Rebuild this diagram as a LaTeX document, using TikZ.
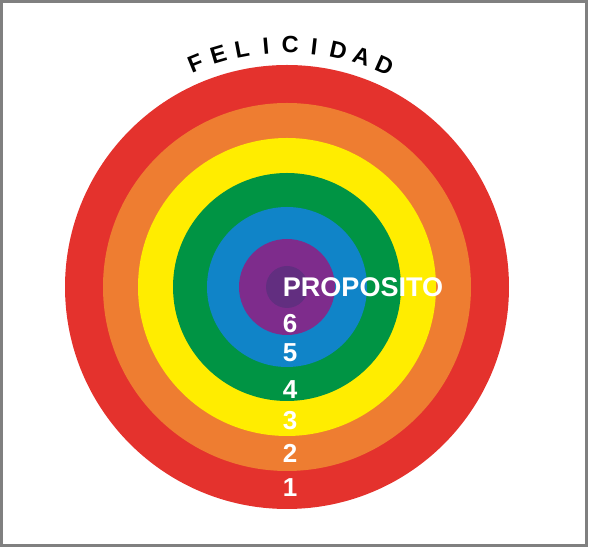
\documentclass[tikz,border=0pt]{standalone}
\usepackage{fontspec}
\setmainfont{Liberation Sans}
\usetikzlibrary{calc,positioning}

\definecolor{ringred}{RGB}{228,50,45}
\definecolor{ringorange}{RGB}{238,125,49}
\definecolor{ringyellow}{RGB}{255,237,0}
\definecolor{ringgreen}{RGB}{0,148,68}
\definecolor{ringblue}{RGB}{16,132,200}
\definecolor{ringpurple}{RGB}{126,44,140}
\definecolor{ringcore}{RGB}{98,46,128}

\begin{document}
\begin{tikzpicture}[x=1pt,y=1pt,
		levelnum/.style={text=white, inner sep=0pt, font=\bfseries\fontsize{26}{26}\selectfont},
		arcletter/.style={inner sep=0pt, font=\bfseries\fontsize{23.5}{23.5}\selectfont}]
		\useasboundingbox (0,0) rectangle (590,548);
		\draw[gray, line width=2.2pt] (1.5,2.5) rectangle (586.5,546.5);

		% target rings
		\coordinate (c) at (287,261);
		\foreach \r/\col in {222/ringred,184/ringorange,149/ringyellow,114/ringgreen,80/ringblue,48/ringpurple,21/ringcore}
			\fill[\col] (c) circle (\r);

		% title on the arc
		\foreach \ch [count=\i] in {F,E,L,I,C,I,D,A,D} {
			\pgfmathsetmacro\ang{112.2-(\i-1)*5.74}
			\node[arcletter, rotate=\ang-90] (title\i) at ($(c)+(\ang:242)$) {\ch};
		}

		\node[text=white, inner sep=0pt, font=\bfseries\fontsize{27}{27}\selectfont] (prop) at (363,260.5) {PROPOSITO};
		\node[levelnum] (lev6) at (290,224) {6};
		\node[levelnum] (lev5) at (290,195) {5};
		\node[levelnum] (lev4) at (290,158) {4};
		\node[levelnum] (lev3) at (290,127) {3};
		\node[levelnum] (lev2) at (290,95) {2};
		\node[levelnum] (lev1) at (290,60) {1};
	\end{tikzpicture}
\end{document}
